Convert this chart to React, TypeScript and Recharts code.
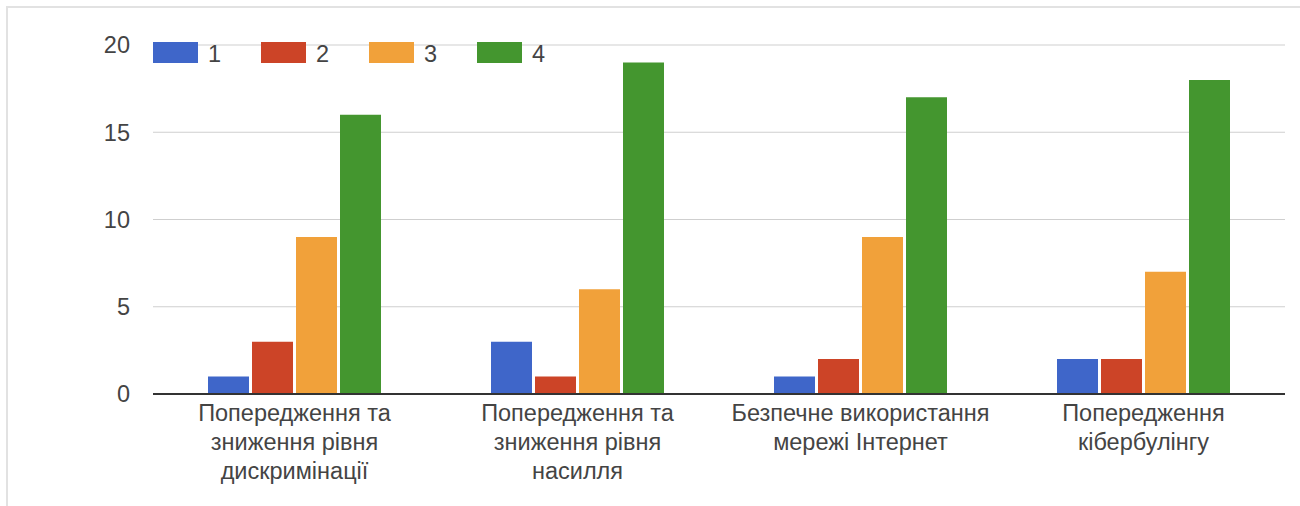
import React from 'react';
import { BarChart, Bar, XAxis, YAxis, CartesianGrid, Legend } from 'recharts';

const categories = [
  'Попередження та\nзниження рівня\nдискримінації',
  'Попередження та\nзниження рівня\nнасилля',
  'Безпечне використання\nмережі Інтернет',
  'Попередження\nкібербулінгу',
];
const series1 = [1, 3, 1, 2];
const series2 = [3, 1, 2, 2];
const series3 = [9, 6, 9, 7];
const series4 = [16, 19, 17, 18];
const seriesNames = ['1', '2', '3', '4'];
const seriesKeys = ['s1', 's2', 's3', 's4'];
const seriesColors = ['#3f66c9', '#cc4427', '#f1a13a', '#44962f'];
const majorTicks = [0, 5, 10, 15, 20];
const minorTicks = [2.5, 7.5, 12.5, 17.5];

const data = categories.map((name, i) => ({
  name,
  s1: series1[i],
  s2: series2[i],
  s3: series3[i],
  s4: series4[i],
}));

const FONT = '"Liberation Sans", Arial, sans-serif';
const TEXT = '#444';
const FS = 23.5;

const XTick = (props: any) => {
  const { x, y, payload } = props;
  const lines = String(payload.value).split('\n');
  return (
    <text x={x} y={y} textAnchor="middle" fill={TEXT} fontSize={FS} fontFamily={FONT}>
      {lines.map((l, i) => (
        <tspan key={i} x={x} dy={i === 0 ? 27 : 29}>
          {l}
        </tspan>
      ))}
    </text>
  );
};

const LegendContent = () => (
  <div style={{ display: 'flex', fontFamily: FONT, fontSize: FS, color: TEXT }}>
    {seriesNames.map((n, i) => (
      <div key={n} style={{ display: 'flex', alignItems: 'center', width: 108, height: 22 }}>
        <div style={{ width: 45, height: 21, background: seriesColors[i], marginRight: 10 }} />
        <span style={{ lineHeight: '22px', position: 'relative', top: 2 }}>{n}</span>
      </div>
    ))}
  </div>
);

const minorGen = (props: any) => {
  const yAxis = props?.yAxis;
  if (yAxis && typeof yAxis.scale === 'function') {
    return minorTicks.map((v) => yAxis.scale(v));
  }
  return [];
};

export default function App() {
  return (
    <div style={{ position: 'absolute', left: 0, top: 0, width: 1300, height: 506, background: '#fff', overflow: 'hidden' }}>
      <div
        style={{
          position: 'absolute',
          left: 6,
          top: 6,
          right: 0,
          bottom: 0,
          borderLeft: '2px solid #e2e2e2',
          borderTop: '2px solid #e2e2e2',
        }}
      />
      <div style={{ position: 'absolute', left: 0, top: 0 }}>
        <BarChart
          width={1300}
          height={506}
          data={data}
          margin={{ top: 45, right: 15, left: 0, bottom: 12 }}
          barCategoryGap={55}
          barGap={3}
        >
          <CartesianGrid vertical={false} stroke="#ececec" horizontalCoordinatesGenerator={minorGen} />
          <CartesianGrid vertical={false} stroke="#cfcfcf" />
          <XAxis
            dataKey="name"
            height={100}
            tickLine={false}
            tickSize={0}
            tickMargin={0}
            axisLine={{ stroke: '#333', strokeWidth: 2 }}
            tick={<XTick />}
            interval={0}
          />
          <YAxis
            width={153}
            domain={[0, 20]}
            ticks={majorTicks}
            axisLine={false}
            tickLine={false}
            tickSize={0}
            tickMargin={23}
            tick={{ fill: TEXT, fontSize: FS, fontFamily: FONT }}
          />
          <Legend
            layout="horizontal"
            verticalAlign="middle"
            align="center"
            content={<LegendContent />}
            wrapperStyle={{ top: 41, left: 153, width: 'auto', height: 22 }}
          />
          {seriesKeys.map((k, i) => (
            <Bar key={k} dataKey={k} name={seriesNames[i]} fill={seriesColors[i]} isAnimationActive={false} />
          ))}
        </BarChart>
      </div>
    </div>
  );
}
